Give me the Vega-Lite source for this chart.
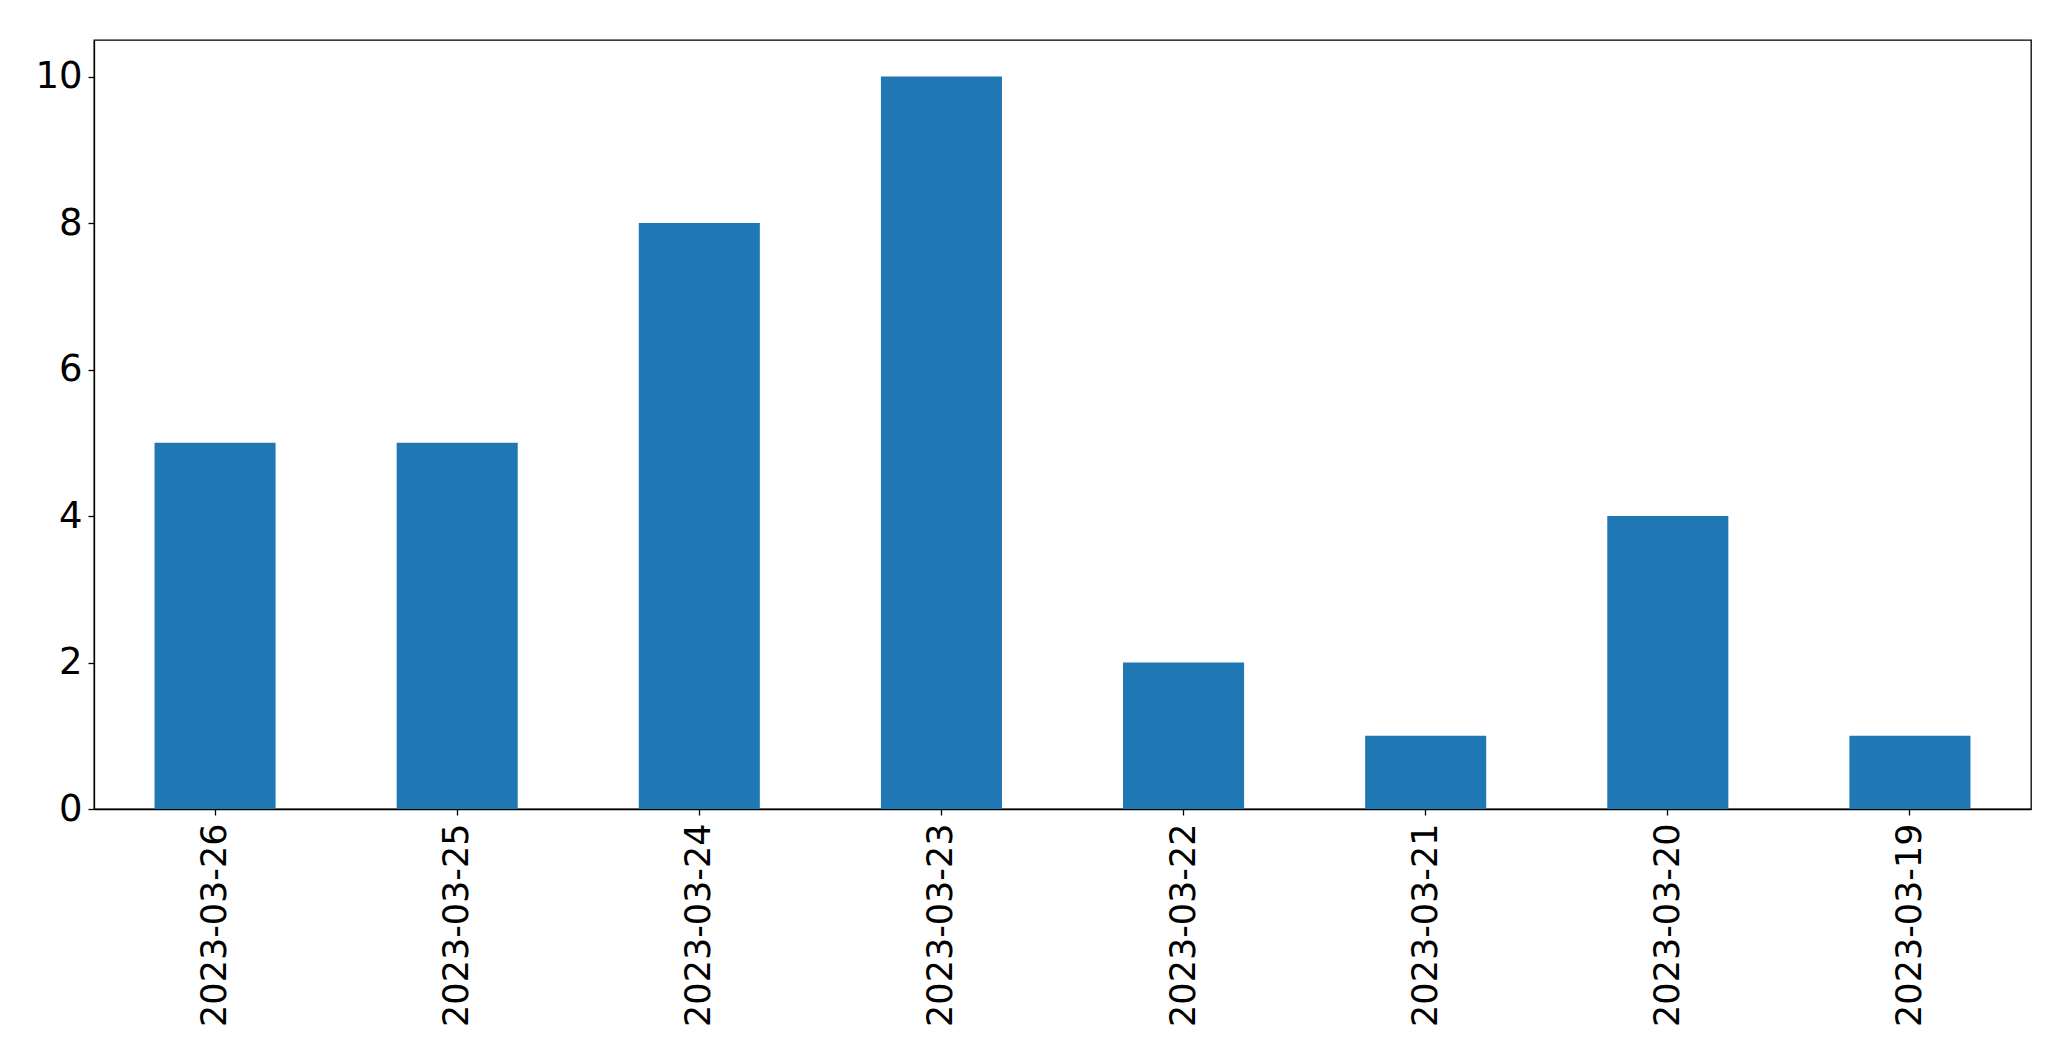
{
  "$schema": "https://vega.github.io/schema/vega-lite/v6.json",
  "width": 1937,
  "height": 769,
  "autosize": "none",
  "padding": {"left": 94, "top": 40, "right": 40, "bottom": 252},
  "background": "white",
  "data": {"values": [
    {"date": "2023-03-26", "count": 5},
    {"date": "2023-03-25", "count": 5},
    {"date": "2023-03-24", "count": 8},
    {"date": "2023-03-23", "count": 10},
    {"date": "2023-03-22", "count": 2},
    {"date": "2023-03-21", "count": 1},
    {"date": "2023-03-20", "count": 4},
    {"date": "2023-03-19", "count": 1}
  ]},
  "config": {
    "view": {"stroke": "black", "strokeWidth": 1.3},
    "font": "DejaVu Sans",
    "axis": {
      "labelFont": "DejaVu Sans",
      "labelFontSize": 35,
      "labelLimit": 0,
      "labelColor": "black",
      "domainColor": "black",
      "tickColor": "black",
      "tickSize": 6,
      "tickWidth": 1.3,
      "domainWidth": 1.3,
      "grid": false,
      "title": null
    }
  },
  "mark": {"type": "bar", "color": "#1f77b4"},
  "encoding": {
    "x": {
      "field": "date",
      "type": "nominal",
      "sort": null,
      "scale": {"paddingInner": 0.5, "paddingOuter": 0.25},
      "axis": {"labelAngle": -90, "labelPadding": 8}
    },
    "y": {
      "field": "count",
      "type": "quantitative",
      "scale": {"domain": [0, 10.5], "nice": false},
      "axis": {"values": [0, 2, 4, 6, 8, 10], "labelPadding": 6, "labelFontSize": 37}
    }
  }
}
